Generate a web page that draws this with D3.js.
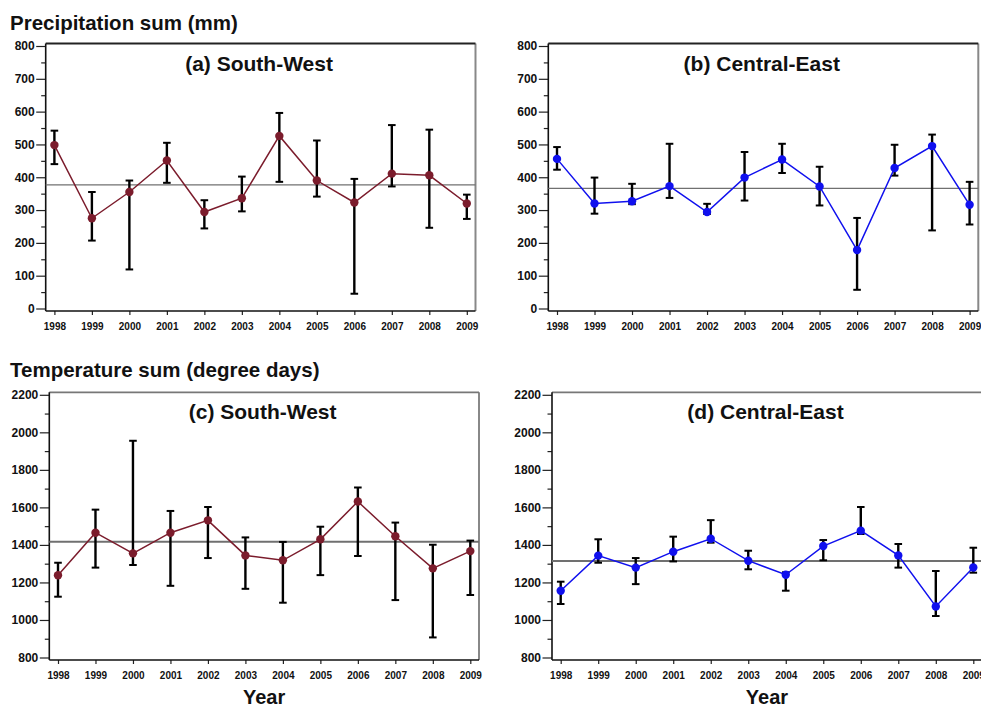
<!DOCTYPE html>
<html>
<head>
<meta charset="utf-8">
<script src="https://cdn.jsdelivr.net/npm/d3@7"></script>
<style>
  body { margin: 0; background: #fff; }
  svg { display: block; font-family: "Liberation Sans", Arial, Helvetica, sans-serif; }
</style>
</head>
<body>
<div id="chart"></div>
<script>
const years = [1998, 1999, 2000, 2001, 2002, 2003, 2004, 2005, 2006, 2007, 2008, 2009];

// precipitation sum (mm)
const prec_sw = [498, 275, 355, 451, 294, 336, 526, 390, 323, 411, 406, 320];
const prec_sw_hi = [542, 355, 390, 505, 330, 402, 596, 512, 395, 559, 545, 347];
const prec_sw_lo = [440, 207, 119, 383, 244, 296, 386, 341, 45, 372, 246, 273];
const prec_ce = [456, 320, 327, 373, 294, 399, 454, 372, 178, 428, 495, 316];
const prec_ce_hi = [492, 399, 380, 502, 319, 477, 502, 432, 276, 499, 530, 386];
const prec_ce_lo = [423, 289, 318, 337, 288, 329, 413, 314, 57, 405, 238, 256];

// temperature sum (degree days)
const temp_sw = [1238, 1465, 1355, 1465, 1531, 1344, 1318, 1430, 1631, 1446, 1275, 1367];
const temp_sw_hi = [1305, 1588, 1955, 1581, 1602, 1440, 1416, 1497, 1706, 1519, 1401, 1423];
const temp_sw_lo = [1124, 1279, 1293, 1182, 1330, 1166, 1092, 1239, 1341, 1106, 907, 1133];
const temp_ce = [1156, 1343, 1279, 1364, 1433, 1316, 1241, 1394, 1476, 1344, 1072, 1280];
const temp_ce_hi = [1204, 1430, 1330, 1444, 1532, 1369, 1254, 1426, 1602, 1405, 1261, 1385];
const temp_ce_lo = [1085, 1305, 1191, 1312, 1412, 1270, 1156, 1318, 1458, 1279, 1021, 1252];

// long-term means (horizontal lines)
const means = [377, 366, 1417, 1314];

const prec_ticks = [0, 100, 200, 300, 400, 500, 600, 700, 800];
const temp_ticks = [800, 1000, 1200, 1400, 1600, 1800, 2000, 2200];

const red = '#7b1c2c';
const blue = '#1010ee';

const width = 981, height = 707;

const svg = d3.select('#chart').append('svg')
  .attr('width', width)
  .attr('height', height)
  .attr('viewBox', `0 0 ${width} ${height}`);

const panels = [
  { x0: 45.7, x1: 475.5, y0: 43.5, y1: 311, title: '(a) South-West', vals: prec_sw, hi: prec_sw_hi, lo: prec_sw_lo,
    mean: means[0], color: red, domain: [0, 800], ticks: prec_ticks, minor: 50, topColor: '#222', meanW: 1.3, xlabel: false },
  { x0: 548.3, x1: 978.3, y0: 43.5, y1: 311, title: '(b) Central-East', vals: prec_ce, hi: prec_ce_hi, lo: prec_ce_lo,
    mean: means[1], color: blue, domain: [0, 800], ticks: prec_ticks, minor: 50, topColor: '#222', meanW: 1.3, xlabel: false },
  { x0: 49.3, x1: 479, y0: 392.3, y1: 660, title: '(c) South-West', vals: temp_sw, hi: temp_sw_hi, lo: temp_sw_lo,
    mean: means[2], color: red, domain: [800, 2200], ticks: temp_ticks, minor: 100, topColor: '#777', meanW: 1.9, xlabel: true },
  { x0: 552, x1: 982, y0: 392.3, y1: 660, title: '(d) Central-East', vals: temp_ce, hi: temp_ce_hi, lo: temp_ce_lo,
    mean: means[3], color: blue, domain: [800, 2200], ticks: temp_ticks, minor: 100, topColor: '#777', meanW: 1.9, xlabel: true }
];

// section headings
svg.append('text').attr('x', 10).attr('y', 30)
  .attr('font-size', 20.5).attr('font-weight', 'bold').attr('fill', '#111')
  .text('Precipitation sum (mm)');
svg.append('text').attr('x', 10).attr('y', 377)
  .attr('font-size', 20.5).attr('font-weight', 'bold').attr('fill', '#111')
  .text('Temperature sum (degree days)');

panels.forEach(p => {
  const w = p.x1 - p.x0;
  const h = p.y1 - p.y0;
  const g = svg.append('g').attr('transform', `translate(${p.x0},${p.y0})`);

  const x_sc = d3.scaleLinear().domain([years[0], years[years.length - 1]]).range([8.7, w - 8.7]);
  const y_sc = d3.scaleLinear().domain(p.domain).range([h - 2.5, 2.5]);

  // minor y ticks
  const minors = d3.range(p.domain[0] + p.minor, p.domain[1], p.minor * 2);
  g.append('g')
    .call(d3.axisLeft(y_sc).tickValues(minors).tickSize(4.5).tickFormat(''))
    .call(a => a.select('.domain').remove())
    .call(a => a.selectAll('line').attr('stroke', '#222').attr('stroke-width', 1.2));

  // major y ticks
  g.append('g')
    .call(d3.axisLeft(y_sc).tickValues(p.ticks).tickSize(9.5).tickPadding(1.5).tickFormat(d3.format('d')))
    .call(a => a.select('.domain').remove())
    .call(a => a.selectAll('line').attr('stroke', '#222').attr('stroke-width', 1.2))
    .call(a => a.selectAll('text')
      .attr('font-size', 12).attr('font-weight', 'bold').attr('fill', '#111')
      .attr('font-family', '"Liberation Sans", Arial, sans-serif'));

  // x ticks
  g.append('g')
    .attr('transform', `translate(0,${h})`)
    .call(d3.axisBottom(x_sc).tickValues(years).tickSize(4).tickPadding(8).tickFormat(d3.format('d')))
    .call(a => a.select('.domain').remove())
    .call(a => a.selectAll('line').attr('stroke', '#222').attr('stroke-width', 1.2))
    .call(a => a.selectAll('text')
      .attr('font-size', 10).attr('font-weight', 'bold').attr('fill', '#111')
      .attr('font-family', '"Liberation Sans", Arial, sans-serif'));

  // frame
  g.append('line').attr('x1', w).attr('x2', w).attr('y1', 0).attr('y2', h)
    .attr('stroke', '#888').attr('stroke-width', 2);
  g.append('line').attr('x1', 0).attr('x2', w).attr('y1', 0).attr('y2', 0)
    .attr('stroke', p.topColor).attr('stroke-width', 1.8);
  g.append('line').attr('x1', 0).attr('x2', 0).attr('y1', 0).attr('y2', h)
    .attr('stroke', '#111').attr('stroke-width', 1.6);
  g.append('line').attr('x1', 0).attr('x2', w).attr('y1', h).attr('y2', h)
    .attr('stroke', '#111').attr('stroke-width', 1.6);

  // mean line
  g.append('line')
    .attr('x1', 0).attr('x2', w)
    .attr('y1', y_sc(p.mean)).attr('y2', y_sc(p.mean))
    .attr('stroke', '#707070').attr('stroke-width', p.meanW);

  // title
  g.append('text')
    .attr('x', w / 2 - 1.5).attr('y', 27)
    .attr('text-anchor', 'middle')
    .attr('font-size', 21).attr('font-weight', 'bold').attr('fill', '#111')
    .text(p.title);

  const pts = years.map((yr, i) => ({ yr, v: p.vals[i], hi: p.hi[i], lo: p.lo[i] }));

  // error bars
  const eb = g.append('g').attr('stroke', '#000').attr('stroke-width', 2.4);
  eb.selectAll('.err').data(pts).enter().append('line')
    .attr('x1', d => x_sc(d.yr)).attr('x2', d => x_sc(d.yr))
    .attr('y1', d => y_sc(d.hi)).attr('y2', d => y_sc(d.lo));
  eb.selectAll('.cap-hi').data(pts).enter().append('line')
    .attr('stroke-width', 2)
    .attr('x1', d => x_sc(d.yr) - 3.8).attr('x2', d => x_sc(d.yr) + 3.8)
    .attr('y1', d => y_sc(d.hi)).attr('y2', d => y_sc(d.hi));
  eb.selectAll('.cap-lo').data(pts).enter().append('line')
    .attr('stroke-width', 2)
    .attr('x1', d => x_sc(d.yr) - 3.8).attr('x2', d => x_sc(d.yr) + 3.8)
    .attr('y1', d => y_sc(d.lo)).attr('y2', d => y_sc(d.lo));

  // series line
  const line = d3.line().x(d => x_sc(d.yr)).y(d => y_sc(d.v));
  g.append('path').datum(pts)
    .attr('d', line)
    .attr('fill', 'none')
    .attr('stroke', p.color)
    .attr('stroke-width', 1.5);

  g.selectAll('.pt').data(pts).enter().append('circle')
    .attr('cx', d => x_sc(d.yr)).attr('cy', d => y_sc(d.v))
    .attr('r', 4.2)
    .attr('fill', p.color);

  if (p.xlabel) {
    g.append('text')
      .attr('x', w / 2).attr('y', 704.5 - p.y0)
      .attr('text-anchor', 'middle')
      .attr('font-size', 20).attr('font-weight', 'bold').attr('fill', '#111')
      .text('Year');
  }
});
</script>
</body>
</html>
